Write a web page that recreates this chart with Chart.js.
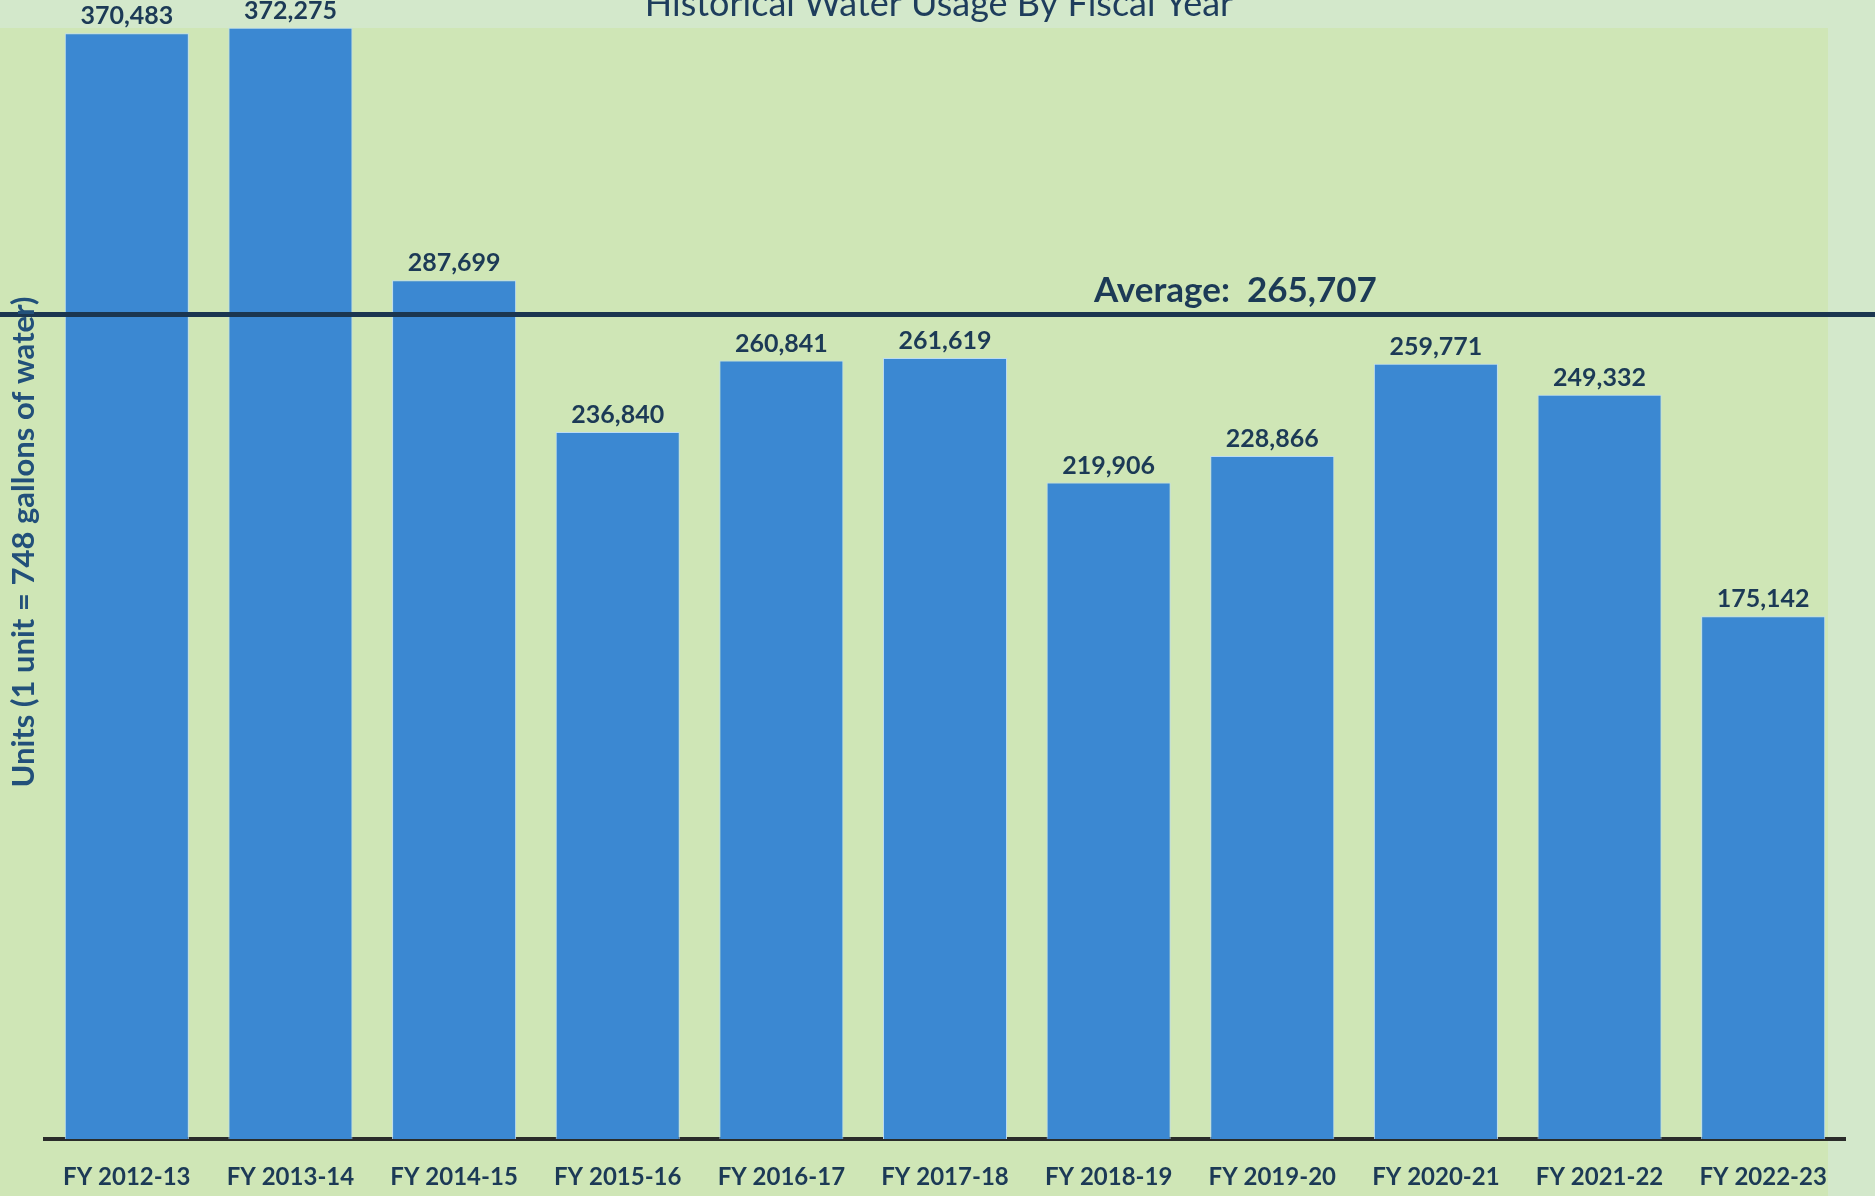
<!DOCTYPE html>
<html>
<head>
<meta charset="utf-8">
<script src="https://cdn.jsdelivr.net/npm/chart.js@4.4.1/dist/chart.umd.min.js"></script>
<style>
  html, body { margin: 0; padding: 0; background: #d3e8cb; }
  #wrap { width: 1875px; height: 1196px; position: relative; }
  canvas { display: block; }
</style>
</head>
<body>
<div id="wrap"><canvas id="c" width="1875" height="1196"></canvas></div>
<script>
// ---- data ----
const categories = ['FY 2012-13', 'FY 2013-14', 'FY 2014-15', 'FY 2015-16', 'FY 2016-17', 'FY 2017-18',
                    'FY 2018-19', 'FY 2019-20', 'FY 2020-21', 'FY 2021-22', 'FY 2022-23'];
const usage = [370483, 372275, 287699, 236840, 260841, 261619, 219906, 228866, 259771, 249332, 175142];
const averageValue = 265707;          // value printed in the label
const averageLineLevel = 276200;      // level where the reference draws the average line
const chartTitle = 'Historical Water Usage By Fiscal Year';
const yAxisTitle = 'Units (1 unit = 748 gallons of water)';

const TEXT = '#1c3a56';
const FONT = 'Lato, "Open Sans", sans-serif';

const fmt = v => v.toLocaleString('en-US');

const decor = {
  id: 'decor',
  beforeDraw(chart) {
    const ctx = chart.ctx;
    ctx.save();
    ctx.fillStyle = '#d3e8cb';
    ctx.fillRect(0, 0, chart.width, chart.height);
    ctx.fillStyle = '#cfe6b6';
    ctx.fillRect(0, 28, 1828, chart.height - 28);
    ctx.restore();
  },
  afterDatasetsDraw(chart) {
    const ctx = chart.ctx;
    const y = chart.scales.y;
    ctx.save();
    // data labels
    const meta = chart.getDatasetMeta(0);
    ctx.fillStyle = TEXT;
    ctx.font = 'bold 25px ' + FONT;
    ctx.textAlign = 'center';
    ctx.textBaseline = 'middle';
    meta.data.forEach((bar, i) => {
      ctx.fillText(fmt(usage[i]), bar.x, bar.y - 17);
    });
    // average line
    const ly = y.getPixelForValue(averageLineLevel);
    ctx.strokeStyle = '#1b3650';
    ctx.lineWidth = 5;
    ctx.beginPath();
    ctx.moveTo(0, ly);
    ctx.lineTo(chart.width, ly);
    ctx.stroke();
    ctx.font = 'bold 35px ' + FONT;
    ctx.textAlign = 'left';
    ctx.textBaseline = 'middle';
    ctx.fillText('Average:  ' + fmt(averageValue), 1094, ly - 24);
    // title (clipped at top in reference)
    ctx.font = '36px ' + FONT;
    ctx.textAlign = 'center';
    ctx.textBaseline = 'alphabetic';
    ctx.fillStyle = '#1e3d5c';
    ctx.fillText(chartTitle, 939, 16);
    // y axis title
    ctx.translate(24, 542);
    ctx.rotate(-Math.PI / 2);
    ctx.font = 'bold 31px ' + FONT;
    ctx.fillStyle = '#22507a';
    ctx.textAlign = 'center';
    ctx.textBaseline = 'middle';
    ctx.fillText(yAxisTitle, 0, 0);
    ctx.restore();
  }
};

new Chart(document.getElementById('c'), {
  type: 'bar',
  data: {
    labels: categories,
    datasets: [{
      data: usage,
      backgroundColor: '#3b88d2',
      borderColor: '#bcdcf3',
      borderWidth: 1,
      categoryPercentage: 0.758,
      barPercentage: 1.0
    }]
  },
  options: {
    responsive: false,
    devicePixelRatio: 1,
    animation: false,
    layout: { padding: { left: 45, right: 30, top: 0, bottom: 0 } },
    plugins: { legend: { display: false }, title: { display: false }, tooltip: { enabled: false } },
    scales: {
      x: {
        grid: { display: false, drawTicks: false },
        border: { display: true, color: '#2a2c2a', width: 4 },
        ticks: { color: TEXT, font: { family: FONT, weight: 'bold', size: 24 }, padding: 24, maxRotation: 0, autoSkip: false },
        afterFit(s) { s.height = 57; }
      },
      y: {
        display: false,
        min: 0,
        max: 381600
      }
    }
  },
  plugins: [decor]
});
</script>
</body>
</html>
